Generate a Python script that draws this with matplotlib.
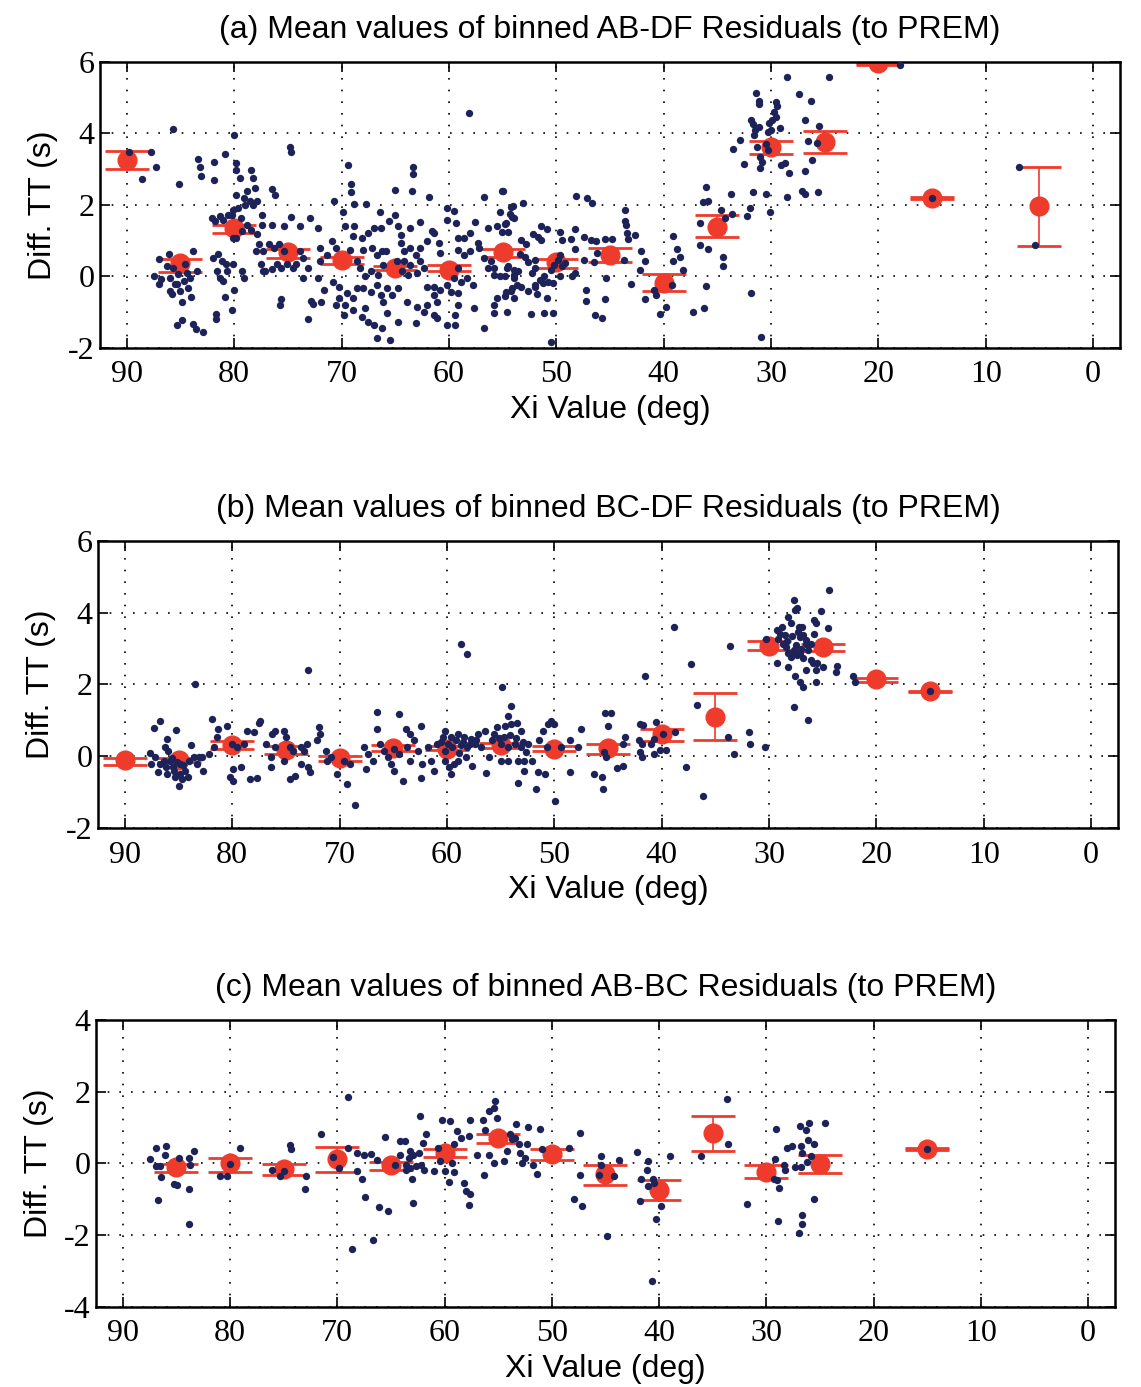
#!/usr/bin/env python3
import numpy as np
import matplotlib
matplotlib.use('Agg')
import matplotlib.pyplot as plt

plt.rcParams['axes.unicode_minus'] = False

# ── Panel (a): AB-DF residuals ─────────────────────────────────────────────
xi_a = [
    # ~90
    89.8, 87.7, 87.3, 88.6,
    # ~85
    85.7, 85.1, 87.5, 87.0, 86.1, 87.0, 86.8, 86.0, 85.8, 85.3,
    85.0, 84.9, 84.7, 84.4, 84.1, 83.8, 83.5, 84.3, 84.0, 85.3,
    84.9, 83.8, 83.6, 82.9, 86.3, 85.7, 85.2, 84.6, 86.0, 85.5,
    # ~82
    83.4, 83.2, 83.1, 81.9, 81.9, 80.9, 81.5, 82.0, 81.1, 80.8,
    81.6, 81.3, 81.0, 80.7, 80.9, 81.7, 81.7, 82.1, 81.8, 81.3,
    81.0, 80.6,
    # ~80
    80.0, 79.8, 79.8, 79.5, 79.8, 79.6, 80.1, 80.2, 79.4, 79.1,
    78.8, 78.4, 78.2, 78.1, 78.5, 79.0, 78.2, 77.9, 78.8, 79.3,
    79.8, 80.1, 78.4, 77.9, 77.4, 77.4, 77.7, 78.0, 77.3, 77.5,
    77.3, 80.1, 79.3, 79.1, 80.0, 80.2,
    # ~75
    76.5, 76.2, 76.5, 75.4, 74.7, 74.8, 74.7, 73.9, 72.9, 76.8,
    76.3, 75.8, 75.4, 75.1, 76.0, 76.5, 77.1, 75.6, 74.5, 73.9,
    73.6, 73.1, 74.2, 72.8, 72.7, 73.1, 75.6, 75.7, 73.6, 72.2,
    72.0, 72.2,
    # 72 .. 54 (dense part)
    69.4, 69.1, 69.1, 63.3, 63.3, 63.4, 65.0, 61.9, 70.7, 68.8,
    67.7, 66.4, 65.0, 65.6, 64.7, 62.7, 63.6, 61.6, 60.2, 59.3,
    57.6, 56.7, 55.1, 54.2, 55.2, 54.7, 55.5, 54.1, 56.4, 60.2,
    59.5, 69.9, 69.7, 68.8, 68.9, 68.1, 67.5, 67.0, 66.3, 70.9,
    70.5, 69.2, 68.0, 67.2, 66.7, 66.2, 65.9, 64.5, 64.5, 64.2,
    63.6, 63.1, 62.7, 62.0, 61.4, 60.9, 60.8, 62.7, 63.6, 64.2,
    64.8, 63.8, 63.0, 62.3, 64.4, 68.6, 68.3, 67.8, 67.3, 66.6,
    66.1, 59.2, 58.6, 58.0, 57.3, 59.2, 58.6, 58.0, 57.2, 56.7,
    56.1, 55.8, 56.4, 55.8, 55.2, 54.6, 53.9, 54.1, 54.7, 53.6,
    59.2, 59.5, 58.9, 58.3, 57.8, 60.2, 59.8, 59.2, 60.8, 61.4,
    62.0, 61.4, 61.1, 62.0, 63.0, 62.3, 63.1, 63.9, 64.7, 65.3,
    65.8, 66.3, 66.1, 66.7, 67.3, 68.0, 68.6, 68.9, 69.5, 70.2,
    70.8, 71.6, 70.2, 69.7, 70.5, 69.8, 68.9, 67.8, 68.1, 67.5,
    67.0, 66.2, 66.7, 65.5, 64.7, 65.8, 61.4, 61.1, 60.2, 59.4,
    59.2, 59.4, 57.7, 56.7, 55.8, 55.5, 54.6, 55.8, 53.9, 71.9,
    72.0, 71.4, 58.1,
    # 55 .. 47
    55.0, 53.1, 54.0, 54.3, 53.9, 54.8, 54.5, 55.1, 53.3, 52.8,
    52.2, 51.7, 51.4, 50.9, 51.4, 53.4, 52.9, 52.6, 52.0, 52.0,
    52.3, 53.9, 54.5, 54.8, 53.9, 53.7, 54.2, 53.3, 52.6, 52.0,
    51.5, 51.8, 50.9, 50.8, 50.3, 49.7, 49.5, 49.2, 49.7, 49.5,
    49.7, 48.6, 48.3, 48.3, 48.5, 48.3, 47.4, 47.4, 46.8, 48.2,
    47.1, 47.2, 47.2, 51.1, 50.3, 52.4, 50.5, 52.0, 54.8, 51.2,
    51.1, 50.5, 50.2, 49.8,
    # ~45-40
    46.7, 46.3, 45.5, 46.2, 46.5, 44.8, 45.4, 45.5, 46.4, 45.7,
    43.6, 43.6, 43.5, 43.4, 43.3, 42.7, 43.7, 43.0, 42.1, 41.7,
    42.2, 41.7, 39.1, 38.8, 38.5, 39.1, 38.2, 40.9, 40.7, 39.8,
    40.3, 39.2,
    # ~35
    37.3, 36.2, 36.1, 36.6, 35.9, 36.1, 36.3, 35.9, 36.6, 34.7,
    34.3, 33.7, 33.6, 34.5, 34.5, 31.9, 30.9, 32.2, 32.0, 31.7,
    30.5, 30.1, 28.5,
    # ~30
    33.5, 32.9, 32.5, 31.9, 31.7, 31.5, 31.6, 31.1, 31.4, 31.1,
    31.1, 31.3, 31.0, 31.0, 30.8, 30.5, 30.3, 30.2, 30.3, 30.0,
    29.9, 29.7, 29.5, 29.4, 29.5, 29.2, 29.1, 28.7, 28.3, 28.5,
    # ~25 and beyond
    27.4, 26.3, 26.8, 25.5, 26.6, 25.7, 26.2, 26.8, 27.1, 26.8,
    25.6, 24.6, 18.0, 15.0, 6.9, 5.4,
]
dt_a = [
    3.47, 3.47, 3.07, 2.72,
    4.12, 2.60, 0.00, 0.48, 0.62, -0.20, -0.07, -0.40, -0.50, -0.20,
    -0.40, -0.72, -0.12, 0.11, -0.03, 0.71, 0.16, -0.31, -0.58, -1.37,
    -1.23, -1.32, -1.46, -1.56, 0.30, 0.25, 0.06, 0.34, -0.03, -0.21,
    3.30, 3.07, 2.80, 3.21, 2.70, 3.42, 0.64, 0.53, 0.44, 0.34,
    0.16, -0.03, -0.12, 0.16, -0.56, -1.05, -1.19, 1.64, 1.55, 1.69,
    1.59, 1.73,
    3.97, 3.17, 2.98, 2.75, 2.29, 1.92, 1.87, 1.73, 1.64, 2.19,
    2.38, 2.98, 2.75, 2.47, 2.10, 2.00, 2.00, 2.10, 1.45, 1.27,
    1.08, 1.08, 1.31, 1.18, 1.73, 1.45, 0.90, 0.71, 0.71, 0.36,
    0.16, 0.34, 0.16, -0.03, -0.38, -0.95,
    2.45, 2.27, 1.45, 1.41, 1.66, 3.63, 3.47, 1.41, 1.64, 0.90,
    0.81, 0.90, 0.71, 0.34, 0.34, 0.20, 0.16, 0.25, 0.25, 0.71,
    0.53, 0.25, 0.34, -0.68, -0.77, -1.19, -0.63, -0.81, -0.03, 1.36,
    0.81, -0.03,
    3.12, 2.60, 2.37, 3.07, 2.88, 2.39, 2.42, 2.23, 2.11, 2.02,
    2.02, 1.81, 1.72, 1.55, 1.40, 1.52, 1.35, 1.26, 1.58, 1.49,
    1.53, 2.23, 2.39, 1.95, 1.81, 1.49, 1.40, 1.67, 1.35, 1.91,
    1.83, 1.81, 1.40, 1.40, 1.12, 1.07, 1.21, 1.35, 1.35, 0.98,
    0.79, 0.74, 0.74, 0.79, 0.60, 0.70, 0.70, 1.16, 0.93, 0.70,
    0.79, 0.60, 0.79, 0.98, 1.21, 0.93, 0.65, 0.42, 0.33, 0.42,
    0.42, 0.05, 0.09, 0.23, 0.14, 0.42, 0.23, 0.00, 0.14, 0.05,
    0.33, 1.07, 1.07, 1.21, 0.93, 0.74, 0.60, 0.70, 0.79, 0.51,
    0.42, 0.23, 0.23, 0.05, 0.00, 0.23, -0.05, -0.33, -0.42, 0.14,
    0.23, -0.05, -0.14, -0.05, -0.23, -0.23, -0.42, -0.47, -0.37, -0.28,
    -0.28, -0.51, -0.70, -0.79, -0.84, -0.98, -1.30, -0.70, -0.33, -0.51,
    -0.33, -0.51, -0.70, -0.23, -0.42, -0.33, -0.33, -0.60, -0.47, -0.28,
    -0.14, -0.37, -0.60, -0.79, -0.79, -1.07, -0.93, -0.88, -1.12, -1.26,
    -1.35, -1.44, -1.72, -1.77, -1.26, -1.02, -1.07, -1.16, -1.35, -1.35,
    -0.79, -1.07, -0.88, -1.44, -0.79, -0.60, -0.98, -1.02, -0.60, -0.70,
    0.42, 0.60, 4.56,
    2.40, 2.06, 1.97, 1.74, 1.65, 1.47, 1.24, 1.24, 1.01, 0.92,
    1.19, 1.10, 1.42, 1.33, 1.01, 0.64, 0.55, 0.41, 0.46, 0.23,
    0.09, 0.18, 0.28, 0.00, 0.05, -0.23, -0.41, -0.28, -0.41, -0.23,
    -0.09, -0.50, -0.60, -0.14, -0.18, 0.00, 0.28, 0.37, 0.60, 1.01,
    1.24, 1.06, 1.33, 0.78, 0.00, 0.09, 0.46, 1.10, 1.01, 2.25,
    2.20, -0.37, -0.69, -1.01, -1.01, -1.06, -1.82, -0.28, -0.55, -0.18,
    0.00, 0.18, 0.32, 0.46,
    2.06, 1.00, 1.06, 0.67, 0.40, 1.06, -0.05, -0.64, -1.08, -1.15,
    1.87, 1.55, 1.43, 1.23, 1.04, 1.15, 0.46, -0.22, 0.72, 0.42,
    0.18, -0.64, 1.12, 0.78, 0.54, 0.42, 0.17, -0.39, -0.53, -0.85,
    -1.05, -0.25,
    -0.99, -0.87, -0.27, 0.88, 0.78, 2.50, 2.08, 2.10, 1.50, 1.87,
    1.64, 2.32, 1.74, 0.54, 0.30, -0.46, -1.69, 1.69, 1.92, 2.35,
    2.31, 1.80, 2.22,
    3.58, 3.81, 3.14, 4.39, 4.26, 4.09, 3.95, 4.18, 5.13, 4.83,
    4.92, 3.63, 3.35, 3.03, 3.21, 3.72, 4.04, 4.28, 3.54, 4.09,
    4.37, 4.60, 4.88, 4.78, 4.46, 4.14, 3.12, 3.17, 2.89, 5.57,
    5.11, 4.90, 4.39, 4.20, 3.80, 3.74, 3.26, 2.94, 2.38, 2.32,
    2.37, 5.57, 5.92, 2.20, 3.07, 0.89,
]
bins_a = [90, 85, 80, 75, 70, 65, 60, 55, 50, 45, 40, 35, 30, 25, 20, 15, 5]
mean_a = [3.26, 0.37, 1.35, 0.69, 0.46, 0.23, 0.18, 0.69, 0.40, 0.60,
          -0.17, 1.39, 3.61, 3.75, 5.96, 2.19, 1.97]
hi_a = [3.52, 0.49, 1.44, 0.76, 0.55, 0.29, 0.32, 0.76, 0.50, 0.79,
        0.06, 1.72, 3.80, 4.06, 5.98, 2.21, 3.07]
lo_a = [3.00, 0.13, 1.23, 0.51, 0.34, 0.18, 0.16, 0.55, 0.25, 0.40,
        -0.41, 1.10, 3.42, 3.45, 5.93, 2.17, 0.86]

# ── Panel (b): BC-DF residuals ─────────────────────────────────────────────
xi_b = [
    83.5, 72.9, 58.7, 58.1, 54.9, 54.0,
    86.7, 87.3, 86.1, 85.2, 87.7, 87.6, 87.2, 86.7, 86.4, 86.0,
    85.8, 85.5, 85.3, 85.0, 84.9, 84.4, 84.1, 84.0, 83.6, 83.3,
    83.1, 86.9, 86.1, 84.7, 83.8, 86.3, 82.7, 82.8, 82.2,
    85.6, 85.1, 84.6, 86.2, 84.9, 85.4,
    81.9, 81.3, 80.5, 81.4, 81.7, 80.0, 79.6, 78.9, 80.2, 79.9,
    79.9, 79.2, 78.3, 77.7, 78.6, 78.0, 77.5, 77.4, 76.9, 76.3,
    76.0, 76.4, 76.4, 76.0,
    75.2, 75.0, 74.6, 74.3, 75.2, 74.6, 74.2, 73.6, 72.9, 72.8,
    73.3, 73.6, 73.0, 72.1, 71.9, 71.8, 71.3, 71.2, 70.2, 69.3,
    68.6, 69.0, 69.6, 70.8,
    67.7, 67.4, 66.9, 66.5, 66.5, 66.2, 65.9, 65.5, 65.2, 64.9,
    64.1, 64.5, 63.8, 63.4, 63.1, 62.4, 62.7, 63.7, 64.5, 63.4,
    62.3, 62.4, 61.5, 61.2, 61.8, 60.9, 67.5, 64.9,
    60.2, 59.6, 59.0, 58.4, 57.8, 57.1, 56.5, 60.2, 59.5, 58.7,
    58.1, 57.4, 56.8, 60.2, 59.8, 59.3, 59.0, 59.6, 57.7, 56.4,
    56.1, 58.2,
    60.6, 59.9, 59.2, 58.5, 57.9, 57.3, 60.4, 58.9,
    55.6, 55.3, 54.6, 54.3, 54.0, 53.5, 53.1, 55.0, 54.3, 53.7,
    53.1, 52.6, 55.0, 54.3, 53.4, 53.4, 52.8, 52.8, 52.5, 52.1,
    51.5, 51.7, 50.9, 51.4, 51.1, 50.6, 50.3, 50.0, 50.7, 49.9,
    49.4, 48.5, 47.8, 47.5, 48.5,
    55.8, 55.2, 54.7, 54.1, 53.6, 52.9,
    46.3, 45.6, 45.5, 45.3, 44.7, 45.0, 45.4, 45.2, 44.2, 43.6,
    43.6, 43.4, 41.6, 42.0, 41.7, 42.1, 41.8, 42.0, 41.8, 40.7,
    40.5, 41.0, 40.7, 40.2, 39.9, 39.6, 38.9, 38.8, 37.7, 37.3,
    36.7, 36.2, 33.8, 33.6, 33.3, 31.9, 31.8, 30.4,
    30.3, 29.3, 29.2, 29.0, 28.8, 28.5, 28.7, 28.2, 28.0, 27.7,
    27.6, 27.4, 27.2, 27.1, 26.8, 26.6, 28.4, 28.2, 28.0, 27.7,
    27.4, 27.1, 26.8, 26.4, 26.1, 25.8, 25.6, 25.8, 25.2, 24.5,
    24.4, 26.1, 25.9, 25.6, 25.5, 25.0, 23.7, 23.8, 29.3, 28.2,
    27.6, 27.1, 26.8, 26.6, 25.6, 27.7, 26.4, 22.2, 22.0, 15.0,
    28.3, 27.9, 27.5, 27.0, 26.6, 27.8, 27.3, 26.9,
]
dt_b = [
    2.01, 2.40, 3.12, 2.86, 1.94, 1.41,
    0.99, 0.79, 0.48, 0.73, 0.08, -0.21, -0.03, -0.21, -0.12, 0.16,
    -0.12, -0.31, -0.58, -0.84, -0.21, -0.40, -0.58, -0.12, -0.03, -0.21,
    -0.03, -0.44, -0.49, -0.63, 0.30, 0.25, -0.40, -0.03, 0.06,
    -0.05, -0.15, -0.25, -0.30, -0.50, -0.40,
    1.04, 0.76, 0.85, 0.53, 0.25, 0.34, 0.25, 0.34, -0.58, -0.68,
    -0.35, -0.31, -0.63, -0.60, 0.71, 0.67, 0.94, 0.99, 0.34, 0.62,
    0.71, -0.03, -0.31, 0.25,
    0.71, 0.53, 0.25, 0.16, -0.12, -0.63, -0.54, -0.21, -0.31, -0.44,
    0.16, 0.25, 0.34, 0.44, 0.81, 0.62, 0.16, -0.12, -0.49, -0.77,
    -1.35, -0.21, -0.12, -0.03,
    0.25, 0.06, -0.12, 1.22, 0.76, 0.34, 0.16, -0.03, -0.21, -0.40,
    -0.69, 1.18, 0.76, 0.62, 0.44, 0.85, 0.16, 0.25, 0.06, -0.12,
    -0.21, -0.60, -0.12, -0.40, 0.25, 0.34, -0.35, 0.20,
    0.71, 0.53, 0.62, 0.53, 0.48, 0.62, 0.71, 0.16, 0.25, 0.30,
    0.25, 0.34, 0.25, -0.12, -0.31, -0.21, -0.12, -0.49, -0.26, -0.47,
    -0.03, -0.03,
    0.40, 0.35, 0.45, 0.40, 0.35, 0.45, 0.55, 0.10,
    0.62, 0.81, 0.85, 1.13, 0.90, 0.94, 0.71, 0.34, 0.25, 0.34,
    0.25, 0.11, -0.12, -0.12, -0.12, -0.75, -0.40, -0.12, 0.34, -0.12,
    -0.44, -0.91, -0.49, 0.44, 0.71, 0.90, 0.99, 0.90, 0.25, -1.25,
    0.25, 0.44, 0.25, 0.76, -0.44,
    0.45, 0.50, 0.55, 0.60, 0.50, 0.40,
    -0.50, -0.58, -0.90, 1.21, 1.21, 0.84, 0.12, -0.02, -0.32, -0.28,
    0.35, 0.54, 2.23, 0.91, 0.87, 0.45, 0.35, 0.12, -0.02, 0.07,
    0.96, 0.35, 0.49, 0.17, 0.63, 0.17, 3.61, 0.68, -0.30, 2.56,
    1.42, -1.11, 0.54, 3.07, 0.07, 0.68, 0.35, 0.26,
    3.28, 3.52, 3.28, 3.42, 3.61, 3.38, 3.14, 3.89, 3.70, 4.35,
    4.07, 4.12, 3.61, 3.33, 3.38, 3.14, 3.05, 2.87, 2.77, 2.96,
    2.82, 2.87, 2.73, 2.96, 3.14, 3.42, 3.70, 3.80, 4.05, 3.56,
    4.63, 2.68, 2.59, 2.40, 2.59, 2.49, 2.51, 2.35, 2.59, 2.49,
    2.23, 2.07, 1.93, 2.40, 2.07, 1.36, 1.02, 2.23, 2.07, 1.81,
    3.20, 3.35, 3.10, 3.00, 3.25, 2.90, 3.45, 3.60,
]
bins_b = [90, 85, 80, 75, 70, 65, 60, 55, 50, 45, 40, 35, 30, 25, 20, 15]
mean_b = [-0.11, -0.11, 0.31, 0.17, -0.05, 0.24, 0.21, 0.31, 0.21, 0.24,
          0.63, 1.09, 3.07, 3.04, 2.14, 1.81]
hi_b = [-0.04, -0.05, 0.42, 0.28, 0.00, 0.31, 0.28, 0.36, 0.28, 0.35,
        0.75, 1.75, 3.20, 3.12, 2.18, 1.83]
lo_b = [-0.25, -0.15, 0.20, 0.05, -0.13, 0.15, 0.17, 0.24, 0.15, 0.06,
        0.42, 0.46, 2.95, 2.92, 2.07, 1.78]

# ── Panel (c): AB-BC residuals ─────────────────────────────────────────────
xi_c = [
    87.5, 86.9, 86.0, 86.1, 86.9, 86.5, 86.4, 86.7, 85.2, 84.9,
    84.8, 83.8, 83.8, 83.8, 83.7, 83.4, 80.9, 80.3, 80.0, 79.1,
    76.1, 75.3, 75.0, 74.4, 74.3, 72.9, 73.0, 71.5, 70.4, 69.8,
    69.0, 69.0, 68.2, 68.2, 67.7, 67.5, 66.9, 67.4, 68.6, 66.7,
    66.3, 66.1, 65.3, 65.6, 64.6, 64.2, 63.7, 64.2, 63.6, 63.3,
    63.2, 62.9, 62.4, 63.6, 63.2, 62.7, 62.2, 63.0, 62.9, 61.9,
    61.0, 62.0, 62.3, 61.7, 60.6, 60.4, 60.0, 59.6, 59.1, 59.3,
    60.2, 59.5, 59.1, 58.8, 58.5, 57.7, 57.6, 58.2, 58.0, 57.6,
    57.7, 57.0, 56.3, 56.4, 56.2, 55.9, 55.4, 55.3, 55.1, 55.9,
    55.4, 54.5, 54.2, 53.9, 53.7, 53.4, 53.3, 53.1, 53.0, 52.8,
    52.5, 52.2, 51.8, 52.3, 51.4, 51.1, 50.9, 48.4, 47.4, 47.9,
    47.2, 47.4, 45.4, 45.4, 45.6, 44.9,
    44.2, 43.7, 42.1, 41.0, 41.1, 41.7, 41.0, 40.6, 40.5, 41.8,
    39.8, 40.3, 40.7, 39.0, 36.1, 33.7, 33.6, 31.8, 29.2, 29.1,
    28.8, 29.3, 29.0, 28.9, 28.4, 28.3, 28.1, 27.6, 27.3, 26.9,
    26.8, 26.8, 26.3, 26.1, 26.7, 26.2, 26.0, 25.8, 25.6, 25.6,
    26.7, 26.7, 27.0, 24.5, 15.0,
]
dt_c = [
    0.13, 0.44, 0.48, 0.25, -0.07, -0.07, -0.37, -1.03, -0.58, -0.60,
    0.16, -1.68, -0.70, 0.16, -0.05, 0.36, -0.35, -0.35, -0.01, 0.44,
    -0.19, -0.35, -0.21, 0.51, 0.39, -0.35, -0.72, 0.83, 0.18, -0.12,
    0.44, 1.85, 0.30, -0.21, -0.43, 0.25, 0.27, -0.93, -2.39, -2.13,
    0.10, -1.20, -1.32, 0.75, -0.05, 0.62, 0.62, 0.23, -0.03, 0.16,
    0.34, 0.25, 0.30, -0.19, -0.12, -0.07, -0.03, -0.44, -1.10, -0.19,
    -0.21, 0.57, 1.32, 0.81, 0.42, 0.06, -0.21, -0.51, -0.23, 0.02,
    1.22, 1.19, 0.53, 0.90, 0.71, 0.76, 1.22, -0.54, -0.77, -0.86,
    -1.17, 0.25, -0.33, 1.22, 0.94, 1.45, 1.55, 1.73, 1.27, 0.23,
    0.02, 0.08, 0.36, 0.81, 0.67, 0.71, 1.10, 0.53, 0.30, 0.02,
    0.16, 1.01, -0.03, 0.55, -0.29, 0.96, 0.41, 0.42, 0.84, -1.00,
    -1.19, -0.32, 0.22, -0.05, -0.32, -2.02,
    -0.35, 0.09, 0.31, 0.06, -0.17, -0.43, -0.63, -0.44, -0.54, -1.05,
    -1.19, -1.56, -3.27, 0.20, 0.20, 1.80, 0.53, -1.12, 0.13, 0.97,
    -0.68, -0.44, -0.47, -1.60, -0.03, -0.19, 0.44, 0.50, -0.09, 1.04,
    -0.10, 0.48, 0.93, 0.65, 0.30, 0.04, 1.13, 0.22, 0.53, -1.00,
    -1.44, -1.69, -1.93, 1.13, 0.41,
]
bins_c = [85, 80, 75, 70, 65, 60, 55, 50, 45, 40, 35, 30, 25, 15]
mean_c = [-0.09, 0.00, -0.16, 0.12, -0.05, 0.30, 0.70, 0.26, -0.29, -0.74,
          0.84, -0.23, -0.01, 0.40]
hi_c = [-0.01, 0.16, -0.01, 0.47, 0.05, 0.40, 0.82, 0.40, -0.04, -0.46,
        1.32, -0.05, 0.24, 0.42]
lo_c = [-0.25, -0.23, -0.32, -0.24, -0.18, 0.17, 0.58, 0.10, -0.59, -1.02,
        0.35, -0.41, -0.26, 0.38]

NAVY = '#1d2358'
RED = '#ee3b2b'
SANS = 'Liberation Sans'
SERIF = 'Liberation Serif'
FS = 23


def draw_panel(ax, xs, ys, bins, mean, hi, lo, ylim, yticks, title):
    mean = np.asarray(mean); hi = np.asarray(hi); lo = np.asarray(lo)
    ax.errorbar(bins, mean, yerr=[mean - lo, hi - mean], fmt='o',
                color=RED, ms=13.5, ecolor=RED, elinewidth=1.2,
                capsize=16, capthick=2, zorder=2)
    ax.scatter(xs, ys, s=28, color=NAVY, linewidths=0, zorder=3)

    ax.set_xlim(92.5, -2.5)
    ax.set_ylim(*ylim)
    xt = list(range(90, -1, -10))
    ax.set_xticks(xt)
    ax.set_yticks(yticks)
    ax.set_xticklabels([str(t) for t in xt], fontfamily=SERIF, fontsize=FS)
    ax.set_yticklabels([str(t) for t in yticks], fontfamily=SERIF, fontsize=FS)
    ax.tick_params(direction='in', length=7, width=1.2, top=True, right=True)
    ax.tick_params(axis='x', pad=9)
    ax.tick_params(axis='y', pad=4)
    ax.grid(True, linestyle=(0, (1, 6)), color='k', linewidth=1.2)
    for sp in ax.spines.values():
        sp.set_linewidth(1.8)
    ax.set_xlabel('Xi Value (deg)', fontfamily=SANS, fontsize=FS, labelpad=4)
    ax.set_ylabel('Diff. TT (s)', fontfamily=SANS, fontsize=FS, labelpad=7)
    ax.set_title(title, fontfamily=SANS, fontsize=FS, pad=17)


fig = plt.figure(figsize=(11.41, 13.87), dpi=100)
ax_a = fig.add_axes([0.0876, 0.7491, 0.8940, 0.2062])
ax_b = fig.add_axes([0.0859, 0.4030, 0.8940, 0.2070])
ax_c = fig.add_axes([0.0841, 0.0577, 0.8931, 0.2069])

draw_panel(ax_a, xi_a, dt_a, bins_a, mean_a, hi_a, lo_a, (-2, 6),
           [-2, 0, 2, 4, 6], '(a) Mean values of binned AB-DF Residuals (to PREM)')
draw_panel(ax_b, xi_b, dt_b, bins_b, mean_b, hi_b, lo_b, (-2, 6),
           [-2, 0, 2, 4, 6], '(b) Mean values of binned BC-DF Residuals (to PREM)')
draw_panel(ax_c, xi_c, dt_c, bins_c, mean_c, hi_c, lo_c, (-4, 4),
           [-4, -2, 0, 2, 4], '(c) Mean values of binned AB-BC Residuals (to PREM)')

fig.savefig('out.png', dpi=100)
